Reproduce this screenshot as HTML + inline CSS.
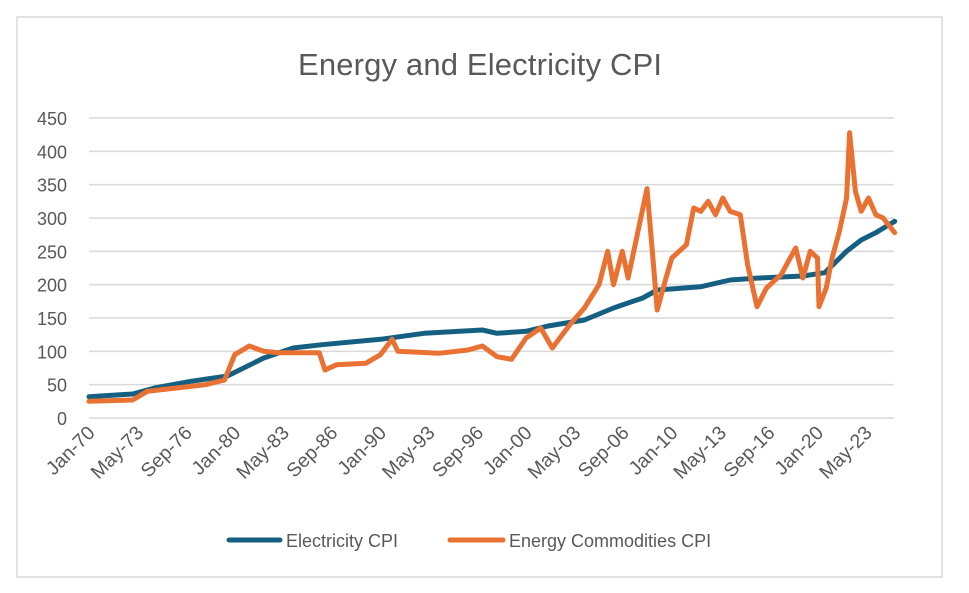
<!DOCTYPE html>
<html><head><meta charset="utf-8"><style>
html,body{margin:0;padding:0;background:#fff;}
svg{display:block;font-family:"Liberation Sans",sans-serif;}
</style></head><body>
<svg id="chart" width="969" height="593">
<rect x="17" y="17" width="925" height="560" fill="#fff" stroke="#d9d9d9" stroke-width="1.5"/>
<text x="480" y="75" text-anchor="middle" font-size="31" fill="#595959" textLength="364">Energy and Electricity CPI</text>
<g id="grid"></g><g id="yt"></g><g id="xt"></g><g id="series"></g>
<g>
<line x1="229" y1="540" x2="280" y2="540" stroke="#156082" stroke-width="5" stroke-linecap="round"/>
<text x="286" y="547" font-size="18" fill="#595959">Electricity CPI</text>
<line x1="450" y1="540" x2="503" y2="540" stroke="#e97132" stroke-width="5" stroke-linecap="round"/>
<text x="509" y="547" font-size="18" fill="#595959">Energy Commodities CPI</text>
</g>
</svg>
<script>
const yTicks=[0,50,100,150,200,250,300,350,400,450];
const xLabels=["Jan-70","May-73","Sep-76","Jan-80","May-83","Sep-86","Jan-90","May-93","Sep-96","Jan-00","May-03","Sep-06","Jan-10","May-13","Sep-16","Jan-20","May-23"];
const elecYears=[1970,1973,1974.5,1977,1979.5,1982,1984,1986,1990,1993,1997,1998,2000,2001.5,2004,2006,2008,2009,2012,2014,2016,2019,2020.5,2022,2023,2024,2025.3];
const elecVals=[32,36,45,55,63,90,105,110,118,127,132,127,130,138,147,165,180,192,197,207,210,213,218,250,267,278,295];
const enYears=[1970,1973,1974,1976,1978,1979.3,1980,1981,1982,1983,1985.8,1986.2,1987,1989,1990,1990.8,1991.2,1994,1996,1997,1998,1999,2000,2001,2001.8,2003,2004,2005,2005.6,2006,2006.6,2007,2008.3,2008.7,2009,2009.6,2010,2011,2011.5,2012,2012.5,2013,2013.5,2014,2014.7,2015.2,2015.85,2016.5,2017,2017.5,2018,2018.5,2019,2019.5,2020,2020.1,2020.6,2021,2021.5,2022,2022.2,2022.6,2023,2023.5,2024,2024.5,2025.3];
const enVals=[25,27,40,45,50,57,95,108,100,98,98,72,80,82,95,118,100,97,102,108,92,88,120,135,105,140,165,200,250,200,250,210,344,240,162,210,240,260,315,310,325,305,330,310,305,230,167,195,205,215,235,255,210,250,240,167,195,240,280,330,428,340,310,330,305,300,278];
const X0=89,X1=894,Y0=418,PX=0.6667;
const xs=y=>X0+(y-1970)*12*(X1-X0)/663;
const ys=v=>Y0-v*PX;
const NS="http://www.w3.org/2000/svg";
function mk(t,a,p){const e=document.createElementNS(NS,t);for(const k in a)e.setAttribute(k,a[k]);p.appendChild(e);return e;}
const g=document.getElementById('grid'),yt=document.getElementById('yt'),xt=document.getElementById('xt'),sg=document.getElementById('series');
yTicks.forEach(v=>{
 const l=mk('line',{x1:X0,x2:X1,y1:ys(v),y2:ys(v),stroke:'#d9d9d9','stroke-width':1.5},g);
 
 
 const t=mk('text',{x:67,y:ys(v)+7,'text-anchor':'end','font-size':18,fill:'#595959'},yt);
 t.textContent=v;
 
 
});
xLabels.forEach((s,i)=>{
 const x=xs(1970+i*40/12);
 const t=mk('text',{x:x+7,y:434,'text-anchor':'end','font-size':19.5,fill:'#595959',transform:`rotate(-45 ${x+7} 434)`},xt);
 t.textContent=s;
 
 
});
function line(xa,va,c,name){
 const d=xa.map((y,i)=>(i?'L':'M')+xs(y).toFixed(1)+','+ys(va[i]).toFixed(1)).join('');
 const p=mk('path',{d:d,fill:'none',stroke:c,'stroke-width':5,'stroke-linejoin':'round','stroke-linecap':'round'},sg);
 
 
}
line(elecYears,elecVals,'#156082','electricity-cpi-line');
line(enYears,enVals,'#e97132','energy-commodities-cpi-line');
</script>
</body></html>
